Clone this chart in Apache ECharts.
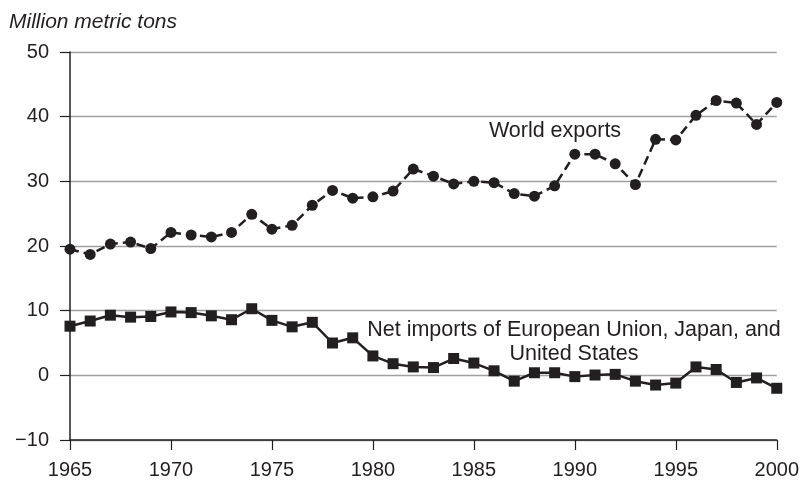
<!DOCTYPE html>
<html>
<head>
<meta charset="utf-8">
<script src="https://cdn.jsdelivr.net/npm/echarts@6/dist/echarts.min.js"></script>
<style>html,body{margin:0;padding:0;background:#fff}#c{width:802px;height:480px}</style>
</head>
<body>
<div id="c"></div>
<script>
var years = [1965,1966,1967,1968,1969,1970,1971,1972,1973,1974,1975,1976,1977,1978,1979,1980,1981,1982,1983,1984,1985,1986,1987,1988,1989,1990,1991,1992,1993,1994,1995,1996,1997,1998,1999,2000];
var worldExports = [19.5,18.7,20.3,20.6,19.6,22.1,21.7,21.4,22.1,24.9,22.6,23.2,26.3,28.6,27.4,27.6,28.5,31.9,30.8,29.6,30.0,29.8,28.1,27.7,29.3,34.2,34.2,32.7,29.5,36.5,36.4,40.2,42.5,42.1,38.8,42.2];
var netImports = [7.6,8.4,9.3,9.0,9.1,9.8,9.7,9.2,8.6,10.3,8.5,7.5,8.2,5.0,5.8,3.0,1.8,1.3,1.2,2.6,1.9,0.7,-0.9,0.4,0.4,-0.2,0.05,0.15,-0.9,-1.5,-1.2,1.3,0.9,-1.1,-0.4,-2.0];
var yTicks = {min: -10, max: 50, step: 10};
var xTicks = {min: 1965, max: 2000, step: 5};
var unitLabel = 'Million metric tons';
var exportsLabel = 'World exports';
var importsLabel = 'Net imports of European Union, Japan, and\nUnited States';

function pairs(v){ return years.map(function(y,i){ return [y, v[i]]; }); }
var ink = '#231f20';
var font = 'Liberation Sans, Arial, Helvetica, sans-serif';
var chart = echarts.init(document.getElementById('c'), null, {renderer:'canvas'});
chart.setOption({
  animation: false,
  backgroundColor: '#fff',
  grid: {left: 70, right: 23, top: 52, bottom: 37, containLabel: false},
  xAxis: {
    type: 'value', min: xTicks.min, max: xTicks.max, interval: xTicks.step,
    axisLine: {onZero: false, lineStyle: {color: ink, width: 1.5}},
    axisTick: {show: true, inside: false, length: 10, lineStyle: {color: ink, width: 1.2}},
    axisLabel: {color: ink, fontSize: 20, fontFamily: font, margin: 20, formatter: function(v){return String(v);}},
    splitLine: {show: false}
  },
  yAxis: {
    type: 'value', min: yTicks.min, max: yTicks.max, interval: yTicks.step,
    axisLine: {show: true, lineStyle: {color: ink, width: 1.5}},
    axisTick: {show: true, inside: false, length: 10, lineStyle: {color: ink, width: 1.2}},
    axisLabel: {color: ink, fontSize: 20, fontFamily: font, margin: 21,
      formatter: function(v){ return v < 0 ? '\u2212' + Math.abs(v) : String(v); }},
    splitLine: {show: true, lineStyle: {color: '#a0a0a0', width: 1.3}}
  },
  series: [
    {
      type: 'line', name: exportsLabel, data: pairs(worldExports),
      symbol: 'circle', symbolSize: 11,
      itemStyle: {color: ink},
      lineStyle: {color: ink, width: 2.5, type: [9, 5]}
    },
    {
      type: 'line', name: 'Net imports', data: pairs(netImports),
      symbol: 'rect', symbolSize: 11,
      itemStyle: {color: ink},
      lineStyle: {color: ink, width: 2.5}
    }
  ],
  graphic: [
    {type: 'text', left: 9, top: 12, style: {text: unitLabel, fill: ink, font: 'italic 21px ' + font}},
    {type: 'text', x: 555, y: 131, style: {text: exportsLabel, fill: ink, font: '21.5px ' + font, textAlign: 'center', textVerticalAlign: 'middle'}},
    {type: 'text', x: 574, y: 342, style: {text: importsLabel, fill: ink, font: '21.5px ' + font, textAlign: 'center', textVerticalAlign: 'middle', lineHeight: 24}}
  ]
});
</script>
</body>
</html>
